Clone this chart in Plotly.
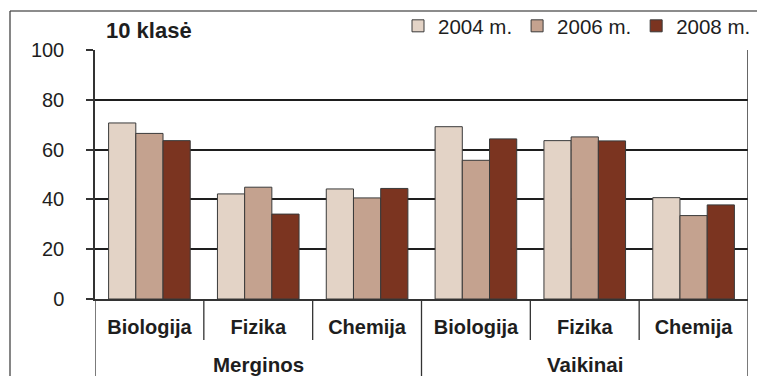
import plotly.graph_objects as go

# Data
subjects = ["Biologija", "Fizika", "Chemija", "Biologija", "Fizika", "Chemija"]
groups = ["Merginos", "Vaikinai"]
group_size = 3
years = ["2004 m.", "2006 m.", "2008 m."]
v2004 = [70.7, 42.2, 44.2, 69.2, 63.6, 40.7]
v2006 = [66.5, 44.9, 40.6, 55.7, 65.1, 33.5]
v2008 = [63.6, 34.1, 44.4, 64.3, 63.5, 37.8]
colors = ["#E3D3C6", "#C4A28F", "#7B3420"]
y_ticks = [0, 20, 40, 60, 80, 100]

W, H = 757, 376
ML, MR, MT, MB = 95, 9, 50, 77
PW, PH = W - ML - MR, H - MT - MB


def px_x(p):
    return (p - ML) / PW


def px_y(p):
    return (H - MB - p) / PH


FONT = "Liberation Sans, Arial, sans-serif"
DARK = "#1e1e1e"

x_idx = list(range(len(subjects)))

fig = go.Figure()
for name, vals, col in zip(years, [v2004, v2006, v2008], colors):
    fig.add_trace(go.Bar(
        x=x_idx, y=vals, name=name,
        marker=dict(color=col, line=dict(color="#3a3a3a", width=1)),
    ))

shapes = []
# dividers between subject categories (below the axis)
for i in range(len(subjects) + 1):
    xb = i - 0.5
    edge = (i % group_size == 0)
    shapes.append(dict(
        type="line", xref="x", yref="paper",
        x0=xb, x1=xb, y0=0, y1=px_y(H + 2) if edge else px_y(340),
        line=dict(color="#333333", width=1.3),
    ))
# right border of the plot area
shapes.append(dict(type="line", xref="x", yref="paper",
                   x0=len(subjects) - 0.5, x1=len(subjects) - 0.5, y0=0, y1=1,
                   line=dict(color="#333333", width=1.5)))
# outer frame
shapes.append(dict(type="line", xref="paper", yref="paper",
                   x0=px_x(10), x1=px_x(W + 2), y0=px_y(11), y1=px_y(11),
                   line=dict(color="#666666", width=1.3)))
shapes.append(dict(type="line", xref="paper", yref="paper",
                   x0=px_x(10), x1=px_x(10), y0=px_y(11), y1=px_y(H + 2),
                   line=dict(color="#444444", width=1.3)))

annotations = [dict(
    text="<b>10 klasė</b>", xref="paper", yref="paper",
    x=px_x(104), y=px_y(31), xanchor="left", yanchor="middle",
    showarrow=False, font=dict(family=FONT, size=22, color=DARK),
)]
for g, name in enumerate(groups):
    center = g * group_size + (group_size - 1) / 2
    annotations.append(dict(
        text=f"<b>{name}</b>", xref="x", yref="paper", x=center, y=0,
        yshift=-65, xanchor="center", yanchor="middle", showarrow=False,
        font=dict(family=FONT, size=20.5, color=DARK),
    ))

fig.update_layout(
    width=W, height=H,
    margin=dict(l=ML, r=MR, t=MT, b=MB, pad=0, autoexpand=False),
    paper_bgcolor="white", plot_bgcolor="white",
    barmode="group", bargap=0.25, bargroupgap=0,
    font=dict(family=FONT, size=18, color=DARK),
    showlegend=True,
    legend=dict(orientation="h", x=px_x(756), y=px_y(26),
                xanchor="right", yanchor="middle",
                font=dict(family=FONT, size=20.5, color=DARK),
                bgcolor="rgba(0,0,0,0)", itemwidth=30, tracegroupgap=0),
    xaxis=dict(
        range=[-0.5, len(subjects) - 0.5],
        tickmode="array", tickvals=x_idx,
        ticktext=[f"<b>{s}</b>" for s in subjects],
        tickfont=dict(family=FONT, size=20, color=DARK),
        ticks="", showgrid=False, zeroline=False,
        showline=True, linecolor="#333333", linewidth=1.5,
        ticklabelstandoff=9,
    ),
    yaxis=dict(
        range=[0, 100], tickmode="array", tickvals=y_ticks,
        tickfont=dict(family=FONT, size=20, color=DARK),
        ticks="outside", ticklen=7, tickwidth=1.5, tickcolor="#333333",
        showgrid=True, gridcolor=DARK, gridwidth=1.6,
        showline=True, linecolor="#333333", linewidth=1.5,
        zeroline=False, ticklabelstandoff=18,
    ),
    shapes=shapes, annotations=annotations,
)

fig.write_html("out.html")
